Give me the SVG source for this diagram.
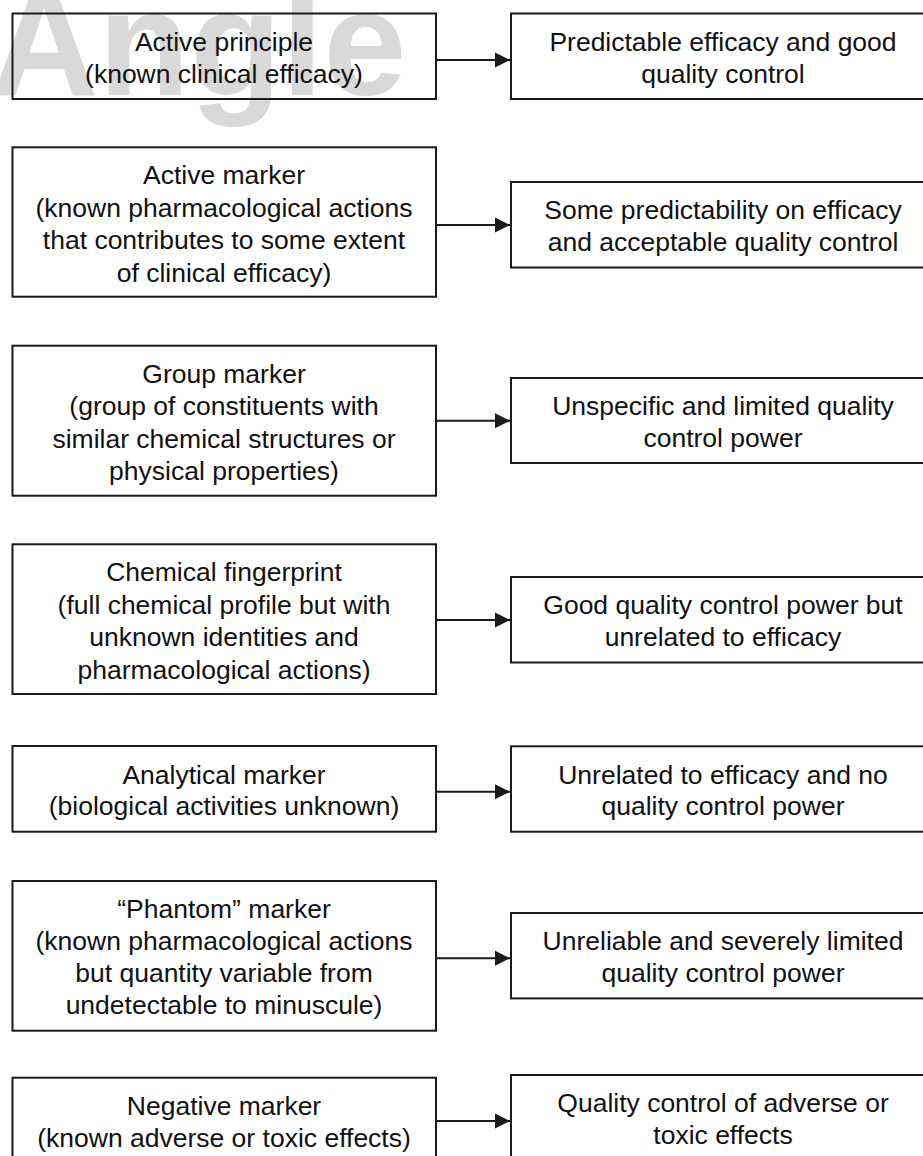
<svg xmlns="http://www.w3.org/2000/svg" width="923" height="1156" viewBox="0 0 923 1156">
<defs>
<style>
.box{fill:none;stroke:#1a1a1a;stroke-width:2}
.t{font-family:"Liberation Sans",Arial,Helvetica,sans-serif;font-size:26.5px;fill:#111;text-anchor:middle}
.wm{font-family:"Liberation Sans",Arial,sans-serif;font-weight:bold;font-size:150px;fill:#d9d9d9}
.c{stroke:#1a1a1a;stroke-width:2;fill:none}
</style>
<marker id="ah" markerWidth="16" markerHeight="16" viewBox="0 0 16 16" refX="15" refY="8" orient="auto" markerUnits="userSpaceOnUse">
<path d="M0,0.5 L15,8 L0,15.5 Z" fill="#1a1a1a"/>
</marker>
</defs>
<rect width="923" height="1156" fill="#fff"/>
<text class="wm" x="-10" y="95">Angle</text>

<g id="connectors">
<line class="c" x1="436" y1="60" x2="510" y2="60" marker-end="url(#ah)"/>
<line class="c" x1="436" y1="225" x2="510" y2="225" marker-end="url(#ah)"/>
<line class="c" x1="436" y1="420.7" x2="510" y2="420.7" marker-end="url(#ah)"/>
<line class="c" x1="436" y1="620" x2="510" y2="620" marker-end="url(#ah)"/>
<line class="c" x1="436" y1="791.7" x2="510" y2="791.7" marker-end="url(#ah)"/>
<line class="c" x1="436" y1="958.3" x2="510" y2="958.3" marker-end="url(#ah)"/>
<line class="c" x1="436" y1="1121" x2="510" y2="1121" marker-end="url(#ah)"/>
</g>

<g id="n1">
<rect class="box" x="12.5" y="13.5" width="423.5" height="85.5"/>
<text class="t" x="224" y="51">Active principle</text>
<text class="t" x="224" y="83">(known clinical efficacy)</text>
</g>
<g id="r1">
<rect class="box" x="511" y="13.5" width="424" height="85.5"/>
<text class="t" x="723" y="51">Predictable efficacy and good</text>
<text class="t" x="723" y="83">quality control</text>
</g>

<g id="n2">
<rect class="box" x="12.5" y="147.3" width="423.5" height="149.4"/>
<text class="t" x="224" y="184">Active marker</text>
<text class="t" x="224" y="216.5">(known pharmacological actions</text>
<text class="t" x="224" y="249">that contributes to some extent</text>
<text class="t" x="224" y="281.5">of clinical efficacy)</text>
</g>
<g id="r2">
<rect class="box" x="511" y="182" width="424" height="85.5"/>
<text class="t" x="723" y="218.5">Some predictability on efficacy</text>
<text class="t" x="723" y="250.5">and acceptable quality control</text>
</g>

<g id="n3">
<rect class="box" x="12.5" y="345.7" width="423.5" height="150"/>
<text class="t" x="224" y="382.7">Group marker</text>
<text class="t" x="224" y="415.2">(group of constituents with</text>
<text class="t" x="224" y="447.7">similar chemical structures or</text>
<text class="t" x="224" y="480.2">physical properties)</text>
</g>
<g id="r3">
<rect class="box" x="511" y="378" width="424" height="85"/>
<text class="t" x="723" y="414.5">Unspecific and limited quality</text>
<text class="t" x="723" y="446.5">control power</text>
</g>

<g id="n4">
<rect class="box" x="12.5" y="544.3" width="423.5" height="149.7"/>
<text class="t" x="224" y="581.2">Chemical fingerprint</text>
<text class="t" x="224" y="613.7">(full chemical profile but with</text>
<text class="t" x="224" y="646.2">unknown identities and</text>
<text class="t" x="224" y="678.7">pharmacological actions)</text>
</g>
<g id="r4">
<rect class="box" x="511" y="577" width="424" height="85.5"/>
<text class="t" x="723" y="613.8">Good quality control power but</text>
<text class="t" x="723" y="645.8">unrelated to efficacy</text>
</g>

<g id="n5">
<rect class="box" x="12.5" y="746" width="423.5" height="85.7"/>
<text class="t" x="224" y="783.5">Analytical marker</text>
<text class="t" x="224" y="815">(biological activities unknown)</text>
</g>
<g id="r5">
<rect class="box" x="511" y="746.3" width="424" height="85.4"/>
<text class="t" x="723" y="783.5">Unrelated to efficacy and no</text>
<text class="t" x="723" y="815">quality control power</text>
</g>

<g id="n6">
<rect class="box" x="12.5" y="881" width="423.5" height="149.7"/>
<text class="t" x="224" y="918">“Phantom” marker</text>
<text class="t" x="224" y="950">(known pharmacological actions</text>
<text class="t" x="224" y="982">but quantity variable from</text>
<text class="t" x="224" y="1014">undetectable to minuscule)</text>
</g>
<g id="r6">
<rect class="box" x="511" y="913" width="424" height="85.4"/>
<text class="t" x="723" y="950">Unreliable and severely limited</text>
<text class="t" x="723" y="982">quality control power</text>
</g>

<g id="n7">
<rect class="box" x="12.5" y="1077.7" width="423.5" height="85.5"/>
<text class="t" x="224" y="1115">Negative marker</text>
<text class="t" x="224" y="1146.5">(known adverse or toxic effects)</text>
</g>
<g id="r7">
<rect class="box" x="511" y="1075" width="424" height="85.5"/>
<text class="t" x="723" y="1112">Quality control of adverse or</text>
<text class="t" x="723" y="1144">toxic effects</text>
</g>
</svg>
